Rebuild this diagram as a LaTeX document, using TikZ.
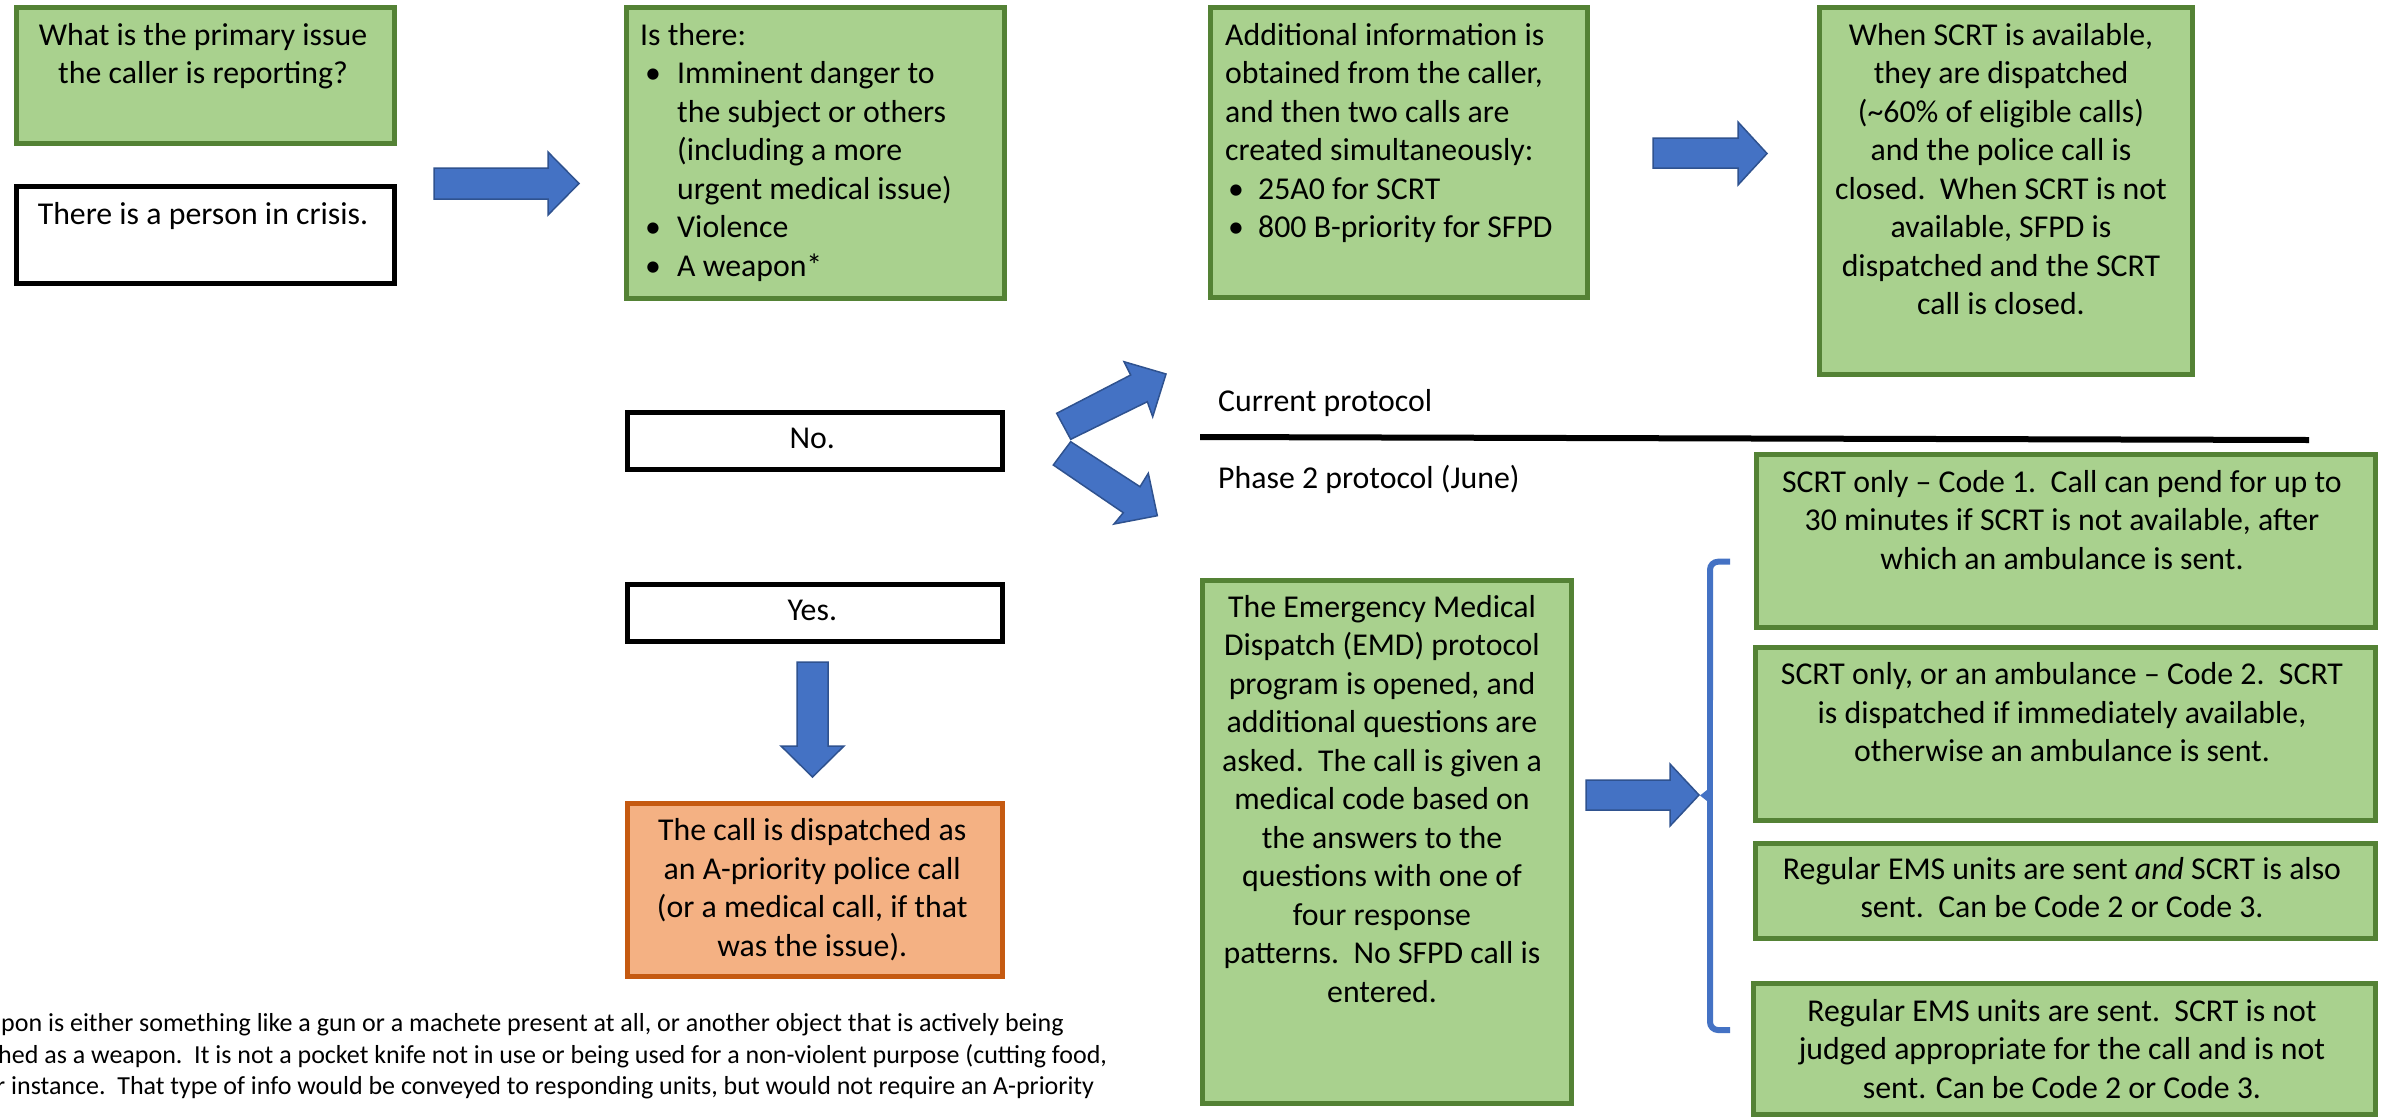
\documentclass[tikz,border=0pt]{standalone}
\usepackage{fontspec}
\setmainfont{Carlito}
\definecolor{boxgreen}{HTML}{A9D18E}
\definecolor{edgegreen}{HTML}{548235}
\definecolor{boxorange}{HTML}{F4B183}
\definecolor{edgeorange}{HTML}{C55A11}
\definecolor{arrowblue}{HTML}{4472C4}
\definecolor{arrowedge}{HTML}{2F528F}
\newcommand\bodyfs{\fontsize{31.8bp}{38.5bp}\selectfont}
\newcommand\notefs{\fontsize{26bp}{31.7bp}\selectfont}
\newcommand\dsp{\ \ }
\newcommand\itembul[2]{\makebox[#1][l]{\hspace{#2}\textbullet}}
\tikzset{
  boxbase/.style={rectangle, line width=5bp, inner sep=0pt, anchor=north west},
  greenbox/.style={boxbase, draw=edgegreen, fill=boxgreen},
  plainbox/.style={boxbase, draw=black, fill=white},
  orangebox/.style={boxbase, draw=edgeorange, fill=boxorange},
  txt/.style={inner sep=0pt, font=\bodyfs, text=black},
  ctxt/.style={txt, align=center, anchor=north},
  ltxt/.style={txt, align=left, anchor=north west},
  notetxt/.style={inner sep=0pt, font=\notefs, text=black, anchor=base west},
  blockarrow/.style={fill=arrowblue, draw=arrowedge, line width=1.5bp, line join=miter},
  bracketline/.style={draw=arrowblue, line width=6bp},
}
\begin{document}
\begin{tikzpicture}[x=1bp, y=-1bp]
\fill[white] (0,0) rectangle (2382,1117);
\useasboundingbox (0,0) rectangle (2382,1117);

% ---- boxes
\node[greenbox, minimum width=378bp, minimum height=136bp] (A) at (14,4.5) {};
\node[plainbox, minimum width=378bp, minimum height=96.5bp] (B) at (14,184) {};
\node[greenbox, minimum width=378bp, minimum height=290.5bp] (C) at (623.5,5) {};
\node[greenbox, minimum width=377bp, minimum height=290bp] (D) at (1208,5) {};
\node[greenbox, minimum width=372.5bp, minimum height=366.5bp] (E) at (1817,5) {};
\node[plainbox, minimum width=375.5bp, minimum height=57bp] (F) at (624.5,409.5) {};
\node[plainbox, minimum width=375.5bp, minimum height=57.5bp] (G) at (624.5,581.5) {};
\node[orangebox, minimum width=375.5bp, minimum height=172.5bp] (H) at (624.5,801) {};
\node[greenbox, minimum width=369bp, minimum height=522.5bp] (I) at (1199.5,578) {};
\node[greenbox, minimum width=618.5bp, minimum height=173bp] (J1) at (1754,452) {};
\node[greenbox, minimum width=619.5bp, minimum height=172.5bp] (J2) at (1753,645) {};
\node[greenbox, minimum width=619.5bp, minimum height=95.5bp] (J3) at (1753,840.5) {};
\node[greenbox, minimum width=621.5bp, minimum height=131.5bp] (J4) at (1751,980.5) {};

% ---- texts
\node[ctxt] (At) at (203,18.05) {\strut What is the primary issue\\the caller is reporting?};
\node[txt, anchor=base] (Bt) at (203,224) {There is a person in crisis.};
\node[ltxt] (Ct) at (640,18.05) {\strut Is there:\\
  \itembul{37bp}{5bp}Imminent danger to\\
  \hspace*{37bp}the subject or others\\
  \hspace*{37bp}(including a more\\
  \hspace*{37bp}urgent medical issue)\\
  \itembul{37bp}{5bp}Violence\\
  \itembul{37bp}{5bp}A weapon*};
\node[ltxt] (Dt) at (1225,18.05) {\strut Additional information is\\
  obtained from the caller,\\
  and then two calls are\\
  created simultaneously:\\
  \itembul{33bp}{3bp}25A0 for SCRT\\
  \itembul{33bp}{3bp}800 B-priority for SFPD};
\node[ctxt] (Et) at (2001,18.05) {\strut When SCRT is available,\\
  they are dispatched\\
  (\textasciitilde60\% of eligible calls)\\
  and the police call is\\
  closed.\dsp When SCRT is not\\
  available, SFPD is\\
  dispatched and the SCRT\\
  call is closed.};
\node[txt, anchor=base] (Ft) at (812.25,448.3) {No.};
\node[txt, anchor=base] (Gt) at (812.25,620.6) {Yes.};
\node[ctxt] (Ht) at (812.25,813.35) {\strut The call is dispatched as\\
  an A-priority police call\\
  (or a medical call, if that\\
  was the issue).};
\node[ctxt] (It) at (1382,590.05) {\strut The Emergency Medical\\
  Dispatch (EMD) protocol\\
  program is opened, and\\
  additional questions are\\
  asked.\dsp The call is given a\\
  medical code based on\\
  the answers to the\\
  questions with one of\\
  four response\\
  patterns.\dsp No SFPD call is\\
  entered.};
\node[ctxt] (J1t) at (2062,465.05) {\strut SCRT only – Code 1.\dsp Call can pend for up to\\
  30 minutes if SCRT is not available, after\\
  which an ambulance is sent.};
\node[ctxt] (J2t) at (2062,657.55) {\strut SCRT only, or an ambulance – Code 2.\dsp SCRT\\
  is dispatched if immediately available,\\
  otherwise an ambulance is sent.};
\node[ctxt] (J3t) at (2062,852.05) {\strut Regular EMS units are sent \textit{and} SCRT is also\\
  sent.\dsp Can be Code 2 or Code 3.};
\node[ctxt] (J4t) at (2062,994.05) {\strut Regular EMS units are sent.\dsp SCRT is not\\
  judged appropriate for the call and is not\\
  sent. Can be Code 2 or Code 3.};

% ---- protocol labels and divider
\node[txt, anchor=base west] (cur) at (1218,411.7) {Current protocol};
\node[txt, anchor=base west] (ph2) at (1218,488) {Phase 2 protocol (June)};
\coordinate (divL) at (1200,437);
\coordinate (divR) at (2309,440);
\draw[line width=6bp] (divL) -- (divR);

% ---- footnote (cut by the page edge)
\node[notetxt] (n1) at (1,1031) {pon is either something like a gun or a machete present at all, or another object that is actively being};
\node[notetxt] (n2) at (-2,1063) {hed as a weapon.\dsp It is not a pocket knife not in use or being used for a non-violent purpose (cutting food,};
\node[notetxt] (n3) at (-4,1094.5) {r instance.\dsp That type of info would be conveyed to responding units, but would not require an A-priority};

% ---- block arrows
\draw[blockarrow] (434,168) -- (548,168) -- (548,152) -- (579,183.5) -- (548,215) -- (548,199) -- (434,199) -- cycle;
\draw[blockarrow] (1653,138) -- (1738,138) -- (1738,122) -- (1767,153.5) -- (1738,185) -- (1738,168) -- (1653,168) -- cycle;
\draw[blockarrow] (1586,780) -- (1670,780) -- (1670,764) -- (1699,795) -- (1670,826) -- (1670,810) -- (1586,810) -- cycle;
\draw[blockarrow] (797,662) -- (828,662) -- (828,746) -- (844,746) -- (812.5,777) -- (781,746) -- (797,746) -- cycle;
% zigzag
\draw[blockarrow] (1056.7,413.3) -- (1130.7,375) -- (1124,361.7) -- (1166,374) -- (1152.7,416.7) -- (1147.3,401.7) -- (1070.7,439.3) -- cycle;
\draw[blockarrow] (1070.7,441.7) -- (1140,486.7) -- (1148.3,473.3) -- (1157.3,515.7) -- (1114,524) -- (1123.3,512.7) -- (1053.3,465) -- cycle;

% ---- bracket
\draw[bracketline, rounded corners=8bp] (1730,561.7) -- (1710,561.7) -- (1710,700);
\draw[bracketline, rounded corners=8bp] (1710,890) -- (1710,1030) -- (1730,1030);
\draw[bracketline] (1710,690) -- (1710,900);
\fill[arrowblue] (1707,790) -- (1700,795.5) -- (1707,801) -- cycle;
\end{tikzpicture}
\end{document}
